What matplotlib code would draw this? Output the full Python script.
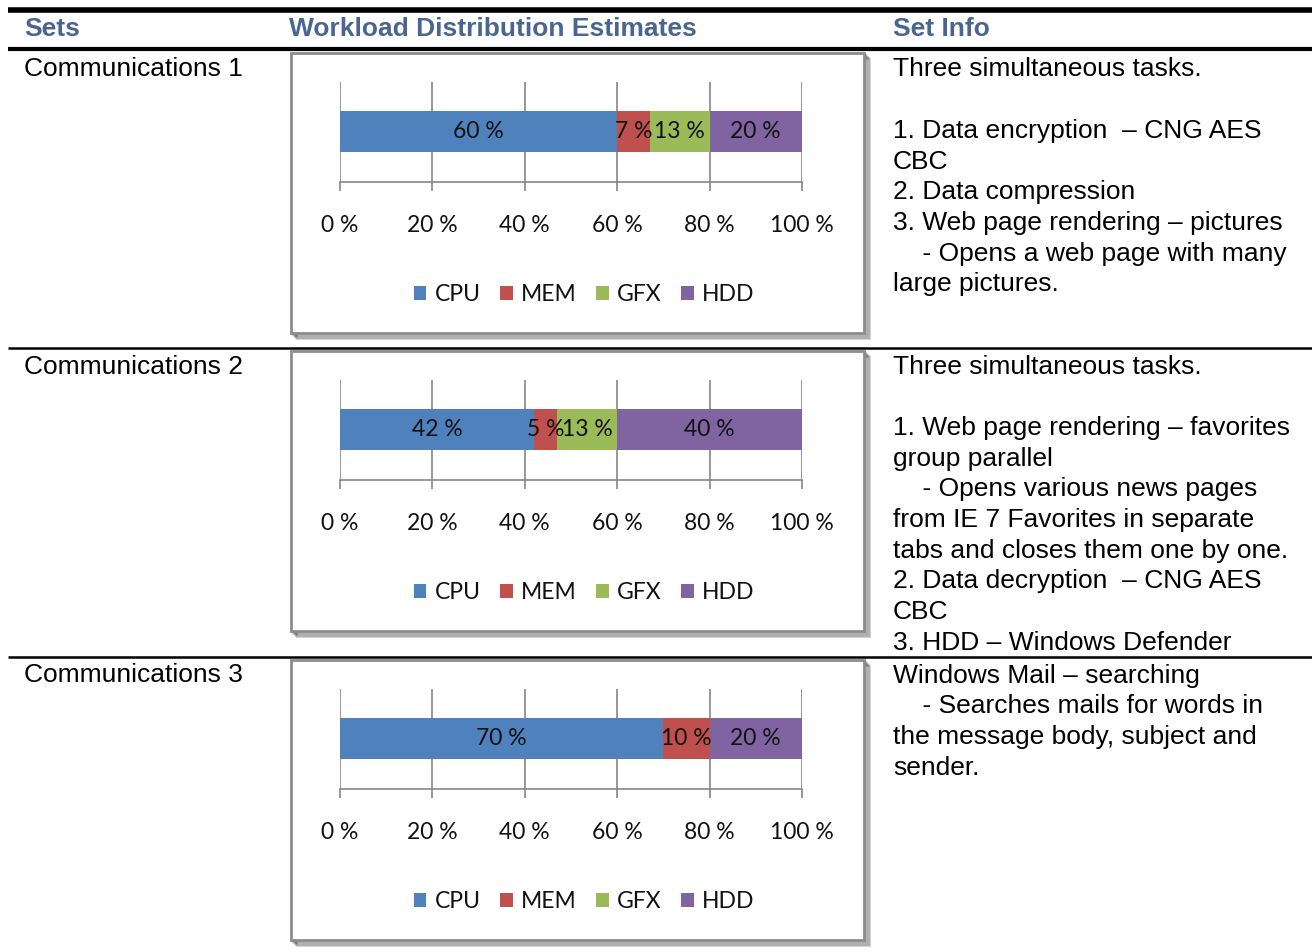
import matplotlib
matplotlib.use('Agg')
import matplotlib.pyplot as plt
from matplotlib.patches import Rectangle

# workload split per set, in percent
sets = ['Communications 1', 'Communications 2', 'Communications 3']
parts = ['CPU', 'MEM', 'GFX', 'HDD']
cpu = [60, 42, 70]
mem = [7, 5, 10]
gfx = [13, 13, 0]
hdd = [20, 40, 20]
part_colors = ['#4F81BD', '#C0504D', '#9BBB59', '#8064A2']
tick_vals = [0, 20, 40, 60, 80, 100]

headers = ['Sets', 'Workload Distribution Estimates', 'Set Info']
info_1 = ['Three simultaneous tasks.',
          '',
          '1. Data encryption  \u2013 CNG AES',
          'CBC',
          '2. Data compression',
          '3. Web page rendering \u2013 pictures',
          '    - Opens a web page with many',
          'large pictures.']
info_2 = ['Three simultaneous tasks.',
          '',
          '1. Web page rendering \u2013 favorites',
          'group parallel',
          '    - Opens various news pages',
          'from IE 7 Favorites in separate',
          'tabs and closes them one by one.',
          '2. Data decryption  \u2013 CNG AES',
          'CBC',
          '3. HDD \u2013 Windows Defender']
info_3 = ['Windows Mail \u2013 searching',
          '    - Searches mails for words in',
          'the message body, subject and',
          'sender.']
infos = [info_1, info_2, info_3]

W, H = 1312, 952
fig = plt.figure(figsize=(W / 100, H / 100), dpi=100)

# page layer in pixel units for the table rules and text
page = fig.add_axes([0, 0, 1, 1])
page.set_xlim(0, W)
page.set_ylim(H, 0)
page.axis('off')

table_font = 'Liberation Sans'
head_color = '#4A6690'

page.plot([8, W], [10, 10], color='black', lw=4, solid_capstyle='butt')
page.plot([8, W], [49, 49], color='black', lw=3, solid_capstyle='butt')
page.plot([8, W], [347.5, 347.5], color='black', lw=1.8, solid_capstyle='butt')
page.plot([8, W], [656.5, 656.5], color='black', lw=1.8, solid_capstyle='butt')

for x, h in zip([24, 289, 893], headers):
    page.text(x, 36.5, h, fontsize=19, fontweight='bold', color=head_color,
              family=table_font, va='baseline')

row_first_line = [67, 364, 673]
row_offset = [0, 298, 607]
line_step = 30.7

for i in range(3):
    y0 = row_first_line[i]
    page.text(24, y0 + 9.5, sets[i], fontsize=19, family=table_font, va='baseline')
    for k, line in enumerate(infos[i]):
        page.text(893, y0 + 9.5 + k * line_step, line, fontsize=19,
                  family=table_font, va='baseline')

    # chart frame with a soft drop shadow
    top = 52.7 + row_offset[i]
    for s in range(1, 7):
        page.add_patch(Rectangle((291 + s, top + s), 573, 280.5, facecolor='none',
                                 edgecolor='black', lw=1.5, alpha=0.16))
    page.add_patch(Rectangle((291, top), 573, 280.5, facecolor='white',
                             edgecolor='#8C8C8C', lw=2))

    ax = fig.add_axes([340 / W, 1 - (top + 129) / H, 462 / W, 100 / H])
    left = 0
    for name, vals, col in zip(parts, [cpu, mem, gfx, hdd], part_colors):
        v = vals[i]
        bars = ax.barh([0], [v], left=left, height=0.41, color=col, label=name)
        if v > 0:
            ax.bar_label(bars, labels=[f'{v} %'], label_type='center',
                         fontsize=16.5, family='Lato', color='#111111')
        left += v

    ax.set_xlim(0, 100)
    ax.set_ylim(-0.5, 0.5)
    ax.set_xticks(tick_vals)
    ax.set_xticklabels([f'{t} %' for t in tick_vals], family='Lato', fontsize=16.5)
    ax.set_yticks([])
    ax.xaxis.grid(True, color='#868686', lw=1.2)
    ax.set_axisbelow(True)
    for sp in ['top', 'left', 'right']:
        ax.spines[sp].set_visible(False)
    ax.spines['bottom'].set_color('#868686')
    ax.spines['bottom'].set_linewidth(1.2)
    ax.tick_params(axis='x', direction='out', length=6.5, width=1.2,
                   color='#868686', pad=17.5, labelcolor='#111111')
    ax.patch.set_alpha(0)
    leg = ax.legend(loc='center', bbox_to_anchor=(0.528, -1.13), ncol=4,
                    frameon=False, handlelength=0.55, handleheight=0.55,
                    handletextpad=0.36, columnspacing=0.85,
                    prop={'family': 'Lato', 'size': 16.5})
    for t in leg.get_texts():
        t.set_color('#111111')

fig.savefig('out.png', dpi=100)
